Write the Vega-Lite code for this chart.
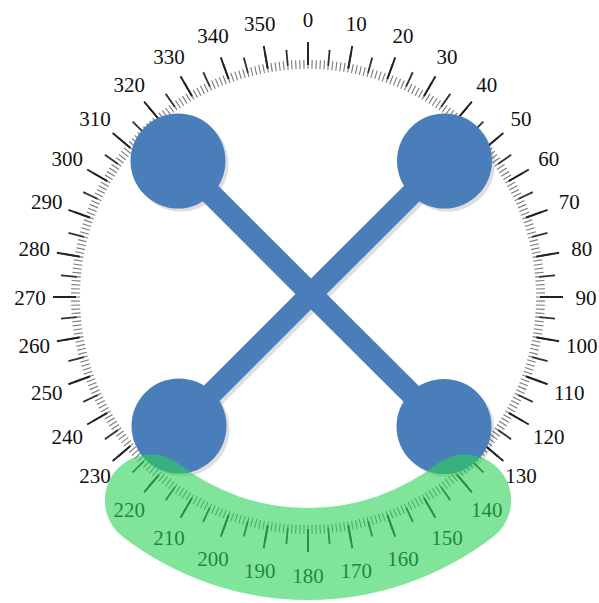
{
 "$schema": "https://vega.github.io/schema/vega-lite/v6.json",
 "width": 580, "height": 594,
 "padding": {"left": 18, "top": 0, "right": 1, "bottom": 9},
 "autosize": {"type": "none"},
 "background": "white",
 "config": {"view": {"stroke": null}},
 "datasets": {
  "dial": [{"d":0},{"d":1},{"d":2},{"d":3},{"d":4},{"d":5},{"d":6},{"d":7},{"d":8},{"d":9},{"d":10},{"d":11},{"d":12},{"d":13},{"d":14},{"d":15},{"d":16},{"d":17},{"d":18},{"d":19},{"d":20},{"d":21},{"d":22},{"d":23},{"d":24},{"d":25},{"d":26},{"d":27},{"d":28},{"d":29},{"d":30},{"d":31},{"d":32},{"d":33},{"d":34},{"d":35},{"d":36},{"d":37},{"d":38},{"d":39},{"d":40},{"d":41},{"d":42},{"d":43},{"d":44},{"d":45},{"d":46},{"d":47},{"d":48},{"d":49},{"d":50},{"d":51},{"d":52},{"d":53},{"d":54},{"d":55},{"d":56},{"d":57},{"d":58},{"d":59},{"d":60},{"d":61},{"d":62},{"d":63},{"d":64},{"d":65},{"d":66},{"d":67},{"d":68},{"d":69},{"d":70},{"d":71},{"d":72},{"d":73},{"d":74},{"d":75},{"d":76},{"d":77},{"d":78},{"d":79},{"d":80},{"d":81},{"d":82},{"d":83},{"d":84},{"d":85},{"d":86},{"d":87},{"d":88},{"d":89},{"d":90},{"d":91},{"d":92},{"d":93},{"d":94},{"d":95},{"d":96},{"d":97},{"d":98},{"d":99},{"d":100},{"d":101},{"d":102},{"d":103},{"d":104},{"d":105},{"d":106},{"d":107},{"d":108},{"d":109},{"d":110},{"d":111},{"d":112},{"d":113},{"d":114},{"d":115},{"d":116},{"d":117},{"d":118},{"d":119},{"d":120},{"d":121},{"d":122},{"d":123},{"d":124},{"d":125},{"d":126},{"d":127},{"d":128},{"d":129},{"d":130},{"d":131},{"d":132},{"d":133},{"d":134},{"d":135},{"d":136},{"d":137},{"d":138},{"d":139},{"d":140},{"d":141},{"d":142},{"d":143},{"d":144},{"d":145},{"d":146},{"d":147},{"d":148},{"d":149},{"d":150},{"d":151},{"d":152},{"d":153},{"d":154},{"d":155},{"d":156},{"d":157},{"d":158},{"d":159},{"d":160},{"d":161},{"d":162},{"d":163},{"d":164},{"d":165},{"d":166},{"d":167},{"d":168},{"d":169},{"d":170},{"d":171},{"d":172},{"d":173},{"d":174},{"d":175},{"d":176},{"d":177},{"d":178},{"d":179},{"d":180},{"d":181},{"d":182},{"d":183},{"d":184},{"d":185},{"d":186},{"d":187},{"d":188},{"d":189},{"d":190},{"d":191},{"d":192},{"d":193},{"d":194},{"d":195},{"d":196},{"d":197},{"d":198},{"d":199},{"d":200},{"d":201},{"d":202},{"d":203},{"d":204},{"d":205},{"d":206},{"d":207},{"d":208},{"d":209},{"d":210},{"d":211},{"d":212},{"d":213},{"d":214},{"d":215},{"d":216},{"d":217},{"d":218},{"d":219},{"d":220},{"d":221},{"d":222},{"d":223},{"d":224},{"d":225},{"d":226},{"d":227},{"d":228},{"d":229},{"d":230},{"d":231},{"d":232},{"d":233},{"d":234},{"d":235},{"d":236},{"d":237},{"d":238},{"d":239},{"d":240},{"d":241},{"d":242},{"d":243},{"d":244},{"d":245},{"d":246},{"d":247},{"d":248},{"d":249},{"d":250},{"d":251},{"d":252},{"d":253},{"d":254},{"d":255},{"d":256},{"d":257},{"d":258},{"d":259},{"d":260},{"d":261},{"d":262},{"d":263},{"d":264},{"d":265},{"d":266},{"d":267},{"d":268},{"d":269},{"d":270},{"d":271},{"d":272},{"d":273},{"d":274},{"d":275},{"d":276},{"d":277},{"d":278},{"d":279},{"d":280},{"d":281},{"d":282},{"d":283},{"d":284},{"d":285},{"d":286},{"d":287},{"d":288},{"d":289},{"d":290},{"d":291},{"d":292},{"d":293},{"d":294},{"d":295},{"d":296},{"d":297},{"d":298},{"d":299},{"d":300},{"d":301},{"d":302},{"d":303},{"d":304},{"d":305},{"d":306},{"d":307},{"d":308},{"d":309},{"d":310},{"d":311},{"d":312},{"d":313},{"d":314},{"d":315},{"d":316},{"d":317},{"d":318},{"d":319},{"d":320},{"d":321},{"d":322},{"d":323},{"d":324},{"d":325},{"d":326},{"d":327},{"d":328},{"d":329},{"d":330},{"d":331},{"d":332},{"d":333},{"d":334},{"d":335},{"d":336},{"d":337},{"d":338},{"d":339},{"d":340},{"d":341},{"d":342},{"d":343},{"d":344},{"d":345},{"d":346},{"d":347},{"d":348},{"d":349},{"d":350},{"d":351},{"d":352},{"d":353},{"d":354},{"d":355},{"d":356},{"d":357},{"d":358},{"d":359}],
  "handles": [
   {"name": "BR", "x": 136, "y": -129.5},
   {"name": "BL", "x": -129, "y": -129},
   {"name": "TR", "x": 136.5, "y": 136},
   {"name": "TL", "x": -130, "y": 136}
  ],
  "band": [{"start": 132, "end": 228}]
 },
 "layer": [
  {
   "data": {"name": "dial"},
   "mark": {"type": "arc", "radius": 237, "radius2": 228, "thetaOffset": -0.0024, "theta2Offset": 0.0024, "color": "#7a7a7a"},
   "encoding": {
    "theta": {"field": "d", "type": "quantitative", "stack": null, "scale": {"domain": [0, 360], "range": [0, 6.283185307179586]}},
    "theta2": {"field": "d"}
   }
  },
  {
   "data": {"name": "dial"},
   "transform": [{"filter": "datum.d % 5 === 0"}],
   "mark": {"type": "arc", "radius": 248, "radius2": 232, "thetaOffset": -0.0038, "theta2Offset": 0.0038, "color": "#333333"},
   "encoding": {
    "theta": {"field": "d", "type": "quantitative", "stack": null, "scale": {"domain": [0, 360], "range": [0, 6.283185307179586]}},
    "theta2": {"field": "d"}
   }
  },
  {
   "data": {"name": "dial"},
   "transform": [{"filter": "datum.d % 10 === 0"}],
   "mark": {"type": "arc", "radius": 255, "radius2": 232, "thetaOffset": -0.0038, "theta2Offset": 0.0038, "color": "#222222"},
   "encoding": {
    "theta": {"field": "d", "type": "quantitative", "stack": null, "scale": {"domain": [0, 360], "range": [0, 6.283185307179586]}},
    "theta2": {"field": "d"}
   }
  },
  {
   "data": {"name": "dial"},
   "transform": [{"filter": "datum.d % 10 === 0"}],
   "mark": {"type": "text", "radius": 278, "font": "Liberation Serif", "fontSize": 21, "color": "#111111", "align": "center", "baseline": "middle", "dy": 1.5},
   "encoding": {
    "theta": {"field": "d", "type": "quantitative", "stack": null, "scale": {"domain": [0, 360], "range": [0, 6.283185307179586]}},
    "text": {"field": "d", "type": "nominal"}
   }
  },
  {
   "data": {"name": "handles"},
   "mark": {"type": "rule", "strokeWidth": 22, "strokeCap": "butt", "color": "#000000", "opacity": 0.13, "xOffset": 3, "x2Offset": 3, "yOffset": 3, "y2Offset": 3},
   "encoding": {
    "x": {"field": "x", "type": "quantitative", "scale": {"domain": [-290, 290]}, "axis": null},
    "y": {"field": "y", "type": "quantitative", "scale": {"domain": [-297, 297]}, "axis": null},
    "x2": {"datum": 3},
    "y2": {"datum": 3}
   }
  },
  {
   "data": {"name": "handles"},
   "mark": {"type": "point", "shape": "circle", "filled": true, "size": 9025, "color": "#000000", "opacity": 0.13, "xOffset": 3, "yOffset": 3},
   "encoding": {
    "x": {"field": "x", "type": "quantitative", "scale": {"domain": [-290, 290]}, "axis": null},
    "y": {"field": "y", "type": "quantitative", "scale": {"domain": [-297, 297]}, "axis": null}
   }
  },
  {
   "data": {"name": "handles"},
   "mark": {"type": "rule", "strokeWidth": 22, "strokeCap": "butt", "color": "#4a7ebb"},
   "encoding": {
    "x": {"field": "x", "type": "quantitative", "scale": {"domain": [-290, 290]}, "axis": null},
    "y": {"field": "y", "type": "quantitative", "scale": {"domain": [-297, 297]}, "axis": null},
    "x2": {"datum": 3},
    "y2": {"datum": 3}
   }
  },
  {
   "data": {"name": "handles"},
   "mark": {"type": "point", "shape": "circle", "filled": true, "size": 9025, "color": "#4a7ebb", "opacity": 1},
   "encoding": {
    "x": {"field": "x", "type": "quantitative", "scale": {"domain": [-290, 290]}, "axis": null},
    "y": {"field": "y", "type": "quantitative", "scale": {"domain": [-297, 297]}, "axis": null}
   }
  },
  {
   "data": {"name": "band"},
   "mark": {"type": "arc", "radius": 303, "radius2": 211, "cornerRadius": 46, "color": "#2bd258", "opacity": 0.6},
   "encoding": {
    "theta": {"field": "start", "type": "quantitative", "stack": null, "scale": {"domain": [0, 360], "range": [0, 6.283185307179586]}},
    "theta2": {"field": "end"}
   }
  }
 ]
}
